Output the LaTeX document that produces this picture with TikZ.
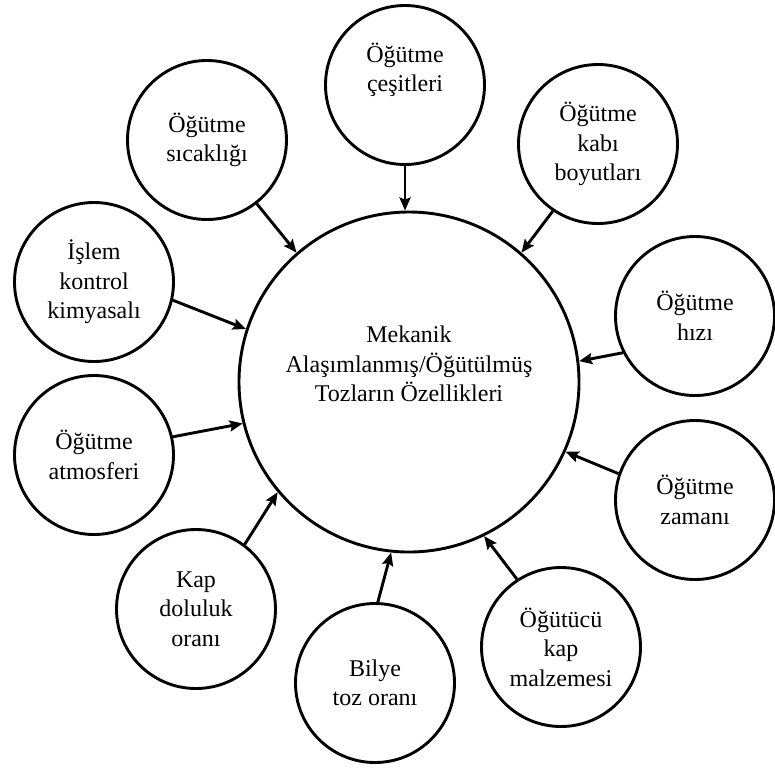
\documentclass[tikz,border=0pt]{standalone}
\usepackage{fontspec}
\setmainfont{Liberation Serif}
\usetikzlibrary{arrows.meta}
\begin{document}
\begin{tikzpicture}[x=1pt,y=-1pt,
  txt/.style={font=\fontsize{24}{29.5}\selectfont,align=center},
  outer/.style={circle,draw,line width=2.9pt,minimum size=159pt,inner sep=0pt,txt},
  centre/.style={circle,draw,line width=2.9pt,minimum size=340pt,inner sep=0pt},
  arr/.style={line width=2.9pt,-{Stealth[length=13pt,width=11pt,inset=2pt]}}]
\useasboundingbox (0,0) rectangle (775,769);
\node[centre] (c) at (409,382) {};
\node[txt] (ct) at (409,364) {Mekanik\\Alaşımlanmış/Öğütülmüş\\Tozların Özellikleri};
\node[outer] (o1) at (405,85) {Öğütme\\çeşitleri\\[6pt]};
\node[outer] (o2) at (598,144) {Öğütme\\kabı\\boyutları};
\node[outer] (o3) at (695,316) {Öğütme\\hızı};
\node[outer] (o4) at (695,500) {Öğütme\\zamanı};
\node[outer] (o5) at (561,647) {Öğütücü\\kap\\malzemesi};
\node[outer] (o6) at (375,683) {Bilye\\toz oranı};
\node[outer] (o7) at (196,609) {Kap\\doluluk\\oranı};
\node[outer] (o8) at (94,455) {Öğütme\\atmosferi};
\node[outer] (o9) at (94,282) {İşlem\\kontrol\\kimyasalı};
\node[outer] (o10) at (207,140) {Öğütme\\sıcaklığı};
\draw[arr] (o1.south) -- (o1.south |- c.north);
\draw[arr] (o2.236) -- (c.49);
\draw[arr] (o3.207) -- (c.7);
\draw[arr] (o4.161) -- (c.-24);
\draw[arr] (o5.123) -- (c.-64);
\draw[arr] (o6.88) -- (c.-96);
\draw[arr] (o7.53) -- (c.-140);
\draw[arr] (o8.13) -- (c.194);
\draw[arr] (o9.-13) -- (c.162);
\draw[arr] (o10.-52) -- (c.131);
\end{tikzpicture}
\end{document}
